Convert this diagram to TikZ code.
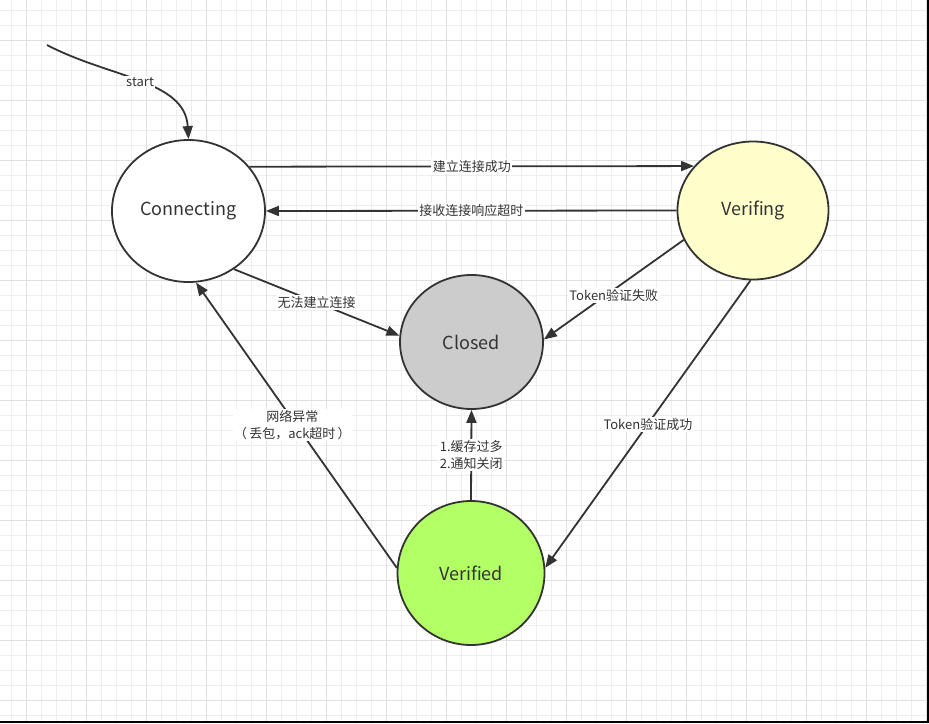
\documentclass[tikz,border=0pt]{standalone}
\usepackage{fontspec}
\setmainfont{Noto Sans CJK SC}
\usetikzlibrary{shapes.geometric,arrows.meta}
\definecolor{ink}{HTML}{333333}
\definecolor{minorgrid}{HTML}{EEEEEE}
\definecolor{majorgrid}{HTML}{E0E0E0}
\definecolor{verifing}{HTML}{FFFFCC}
\definecolor{closed}{HTML}{CCCCCC}
\definecolor{verified}{HTML}{B3FF66}
\begin{document}
\begin{tikzpicture}[x=1pt,y=-1pt,
    state/.style={ellipse,draw=ink,line width=1.8pt,text=ink,font=\fontsize{18}{21}\selectfont},
    lbl/.style={fill=white,inner sep=1.5pt,text=ink,font=\fontsize{13}{17}\selectfont,align=center},
    edge/.style={draw=ink,line width=1.8pt,-{Triangle[length=13pt,width=10pt]}}]
    \useasboundingbox (0,0) rectangle (929,723);
    \fill[white] (0,0) rectangle (929,723);
    \foreach \x in {11.7,26.7,...,926.7}
    \draw[minorgrid,line width=1pt] (\x,0)--(\x,723);
    \foreach \y in {10,25,...,715}
    \draw[minorgrid,line width=1pt] (0,\y)--(929,\y);
    \foreach \x in {26.7,86.7,...,926.7}
    \draw[majorgrid,line width=1pt] (\x,0)--(\x,723);
    \foreach \y in {40,100,...,700}
    \draw[majorgrid,line width=1pt] (0,\y)--(929,\y);
    \fill[black] (926.5,0) rectangle (929,723);
    \fill[black] (0,720.5) rectangle (929,723);
    \node[state,fill=white,minimum width=153pt,minimum height=142pt] (con) at (188.5,211) {Connecting};
    \node[state,fill=verifing,minimum width=151pt,minimum height=138pt] (ver) at (753,210.5) {Verifing};
    \node[state,fill=closed,minimum width=143pt,minimum height=134pt] (clo) at (471.5,342) {Closed};
    \node[state,fill=verified,minimum width=147pt,minimum height=144pt] (vfd) at (471,573) {Verified};
    \coordinate (st) at (47,45);
    \draw[edge] (st) .. controls (110,78) and (185,80) .. (con.north) node[lbl,pos=0.5] {start};
    \draw[edge] (con.36) -- node[lbl] {建立连接成功} (ver.143.5);
    \draw[edge] (ver.west) -- node[lbl] {接收连接响应超时} (con.east);
    \draw[edge] (con.-52) -- node[lbl] {无法建立连接} (clo.175);
    \draw[edge] (ver.-157) -- node[lbl,yshift=-6pt] {Token验证失败} (clo.2);
    \draw[edge] (ver.-92) -- node[lbl] {Token验证成功} (vfd.4);
    \draw[edge] (vfd.north) -- node[lbl] {1.缓存过多\\2.通知关闭} (clo.south);
    \draw[edge] (vfd.176) -- node[lbl,xshift=-4pt] {网络异常\\（\,丢包，ack超时\,）} (con.-84);
\end{tikzpicture}
\end{document}
